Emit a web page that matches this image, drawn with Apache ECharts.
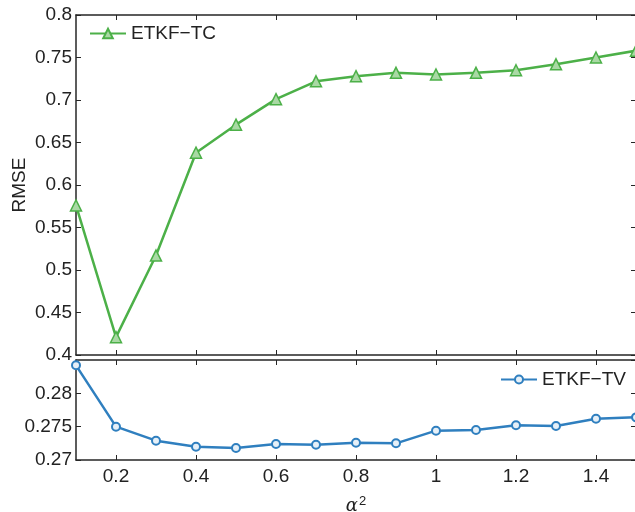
<!DOCTYPE html>
<html>
<head>
<meta charset="utf-8">
<script src="https://cdn.jsdelivr.net/npm/echarts@6/dist/echarts.min.js"></script>
<style>
html,body{margin:0;padding:0;background:#fff;}
#main{width:635px;height:512px;}
</style>
</head>
<body>
<div id="main"></div>
<script>
var alpha2 = [0.1, 0.2, 0.3, 0.4, 0.5, 0.6, 0.7, 0.8, 0.9, 1.0, 1.1, 1.2, 1.3, 1.4, 1.5];
var tcValues = [0.576, 0.421, 0.517, 0.638, 0.671, 0.701, 0.722, 0.728, 0.732, 0.730, 0.732, 0.735, 0.742, 0.750, 0.758];
var tvValues = [0.2842, 0.2750, 0.2729, 0.2720, 0.2718, 0.2724, 0.2723, 0.2726, 0.2725, 0.2744, 0.2745, 0.2752, 0.2751, 0.2762, 0.2764];
var xTicks = [0.2, 0.4, 0.6, 0.8, 1.0, 1.2, 1.4];
var tcName = 'ETKF\u2212TC';
var tvName = 'ETKF\u2212TV';

var FONT = 'Liberation Sans, Arial, Helvetica, sans-serif';
var AX = '#262626';
var GREEN = '#4cb048';
var BLUE = '#2f7fbf';
var FS = 19;

function pairs(xs, ys) { return xs.map(function (x, i) { return [x, ys[i]]; }); }

function xAx(grid, pos, showLabels, extra) {
  var o = {
    type: 'value', gridIndex: grid, position: pos, min: 0.1, max: 1.5,
    axisLine: { show: true, onZero: false, lineStyle: { color: AX, width: 1.5 } },
    axisTick: { show: true, inside: true, length: 5, customValues: xTicks, lineStyle: { color: AX, width: 1 } },
    axisLabel: { show: showLabels, customValues: xTicks, color: '#222', fontFamily: FONT, fontSize: FS, margin: 7,
      formatter: function (v) { return String(Math.round(v * 10) / 10); } },
    splitLine: { show: false }
  };
  if (extra) for (var k in extra) o[k] = extra[k];
  return o;
}
function yAx(grid, pos, min, max, interval, showLabels, showLine, extra) {
  var o = {
    type: 'value', gridIndex: grid, position: pos, min: min, max: max, interval: interval,
    axisLine: { show: showLine, onZero: false, lineStyle: { color: AX, width: 1.5 } },
    axisTick: { show: true, inside: true, length: 5, lineStyle: { color: AX, width: 1 } },
    axisLabel: { show: showLabels, color: '#222', fontFamily: FONT, fontSize: FS, margin: 4 },
    splitLine: { show: false }
  };
  if (extra) for (var k in extra) o[k] = extra[k];
  return o;
}

var chart = echarts.init(document.getElementById('main'), null, { renderer: 'canvas' });
chart.setOption({
  backgroundColor: '#fff',
  animation: false,
  grid: [
    { left: 76, top: 15, width: 560, height: 340, containLabel: false, outerBoundsMode: 'none' },
    { left: 76, top: 360, width: 560, height: 100, containLabel: false, outerBoundsMode: 'none' }
  ],
  legend: [
    { data: [tcName], left: 89, top: 24, padding: 0, itemWidth: 36, itemHeight: 12, itemGap: 5,
      textStyle: { fontFamily: FONT, fontSize: FS, color: '#222' } },
    { data: [tvName], left: 500, top: 370, padding: 0, itemWidth: 36, itemHeight: 10, itemGap: 5,
      textStyle: { fontFamily: FONT, fontSize: FS, color: '#222' } }
  ],
  xAxis: [
    xAx(0, 'bottom', false),
    xAx(0, 'top', false),
    xAx(1, 'bottom', true, {
      name: '{a|\u03b1}{s|2}', nameLocation: 'middle', nameGap: 35,
      nameTextStyle: { rich: {
        a: { fontFamily: 'DejaVu Serif, serif', fontStyle: 'italic', fontSize: 18, color: '#222' },
        s: { fontFamily: FONT, fontSize: 13, color: '#222', verticalAlign: 'top', padding: [0, 0, 9, 1] }
      } }
    }),
    xAx(1, 'top', false)
  ],
  yAxis: [
    yAx(0, 'left', 0.4, 0.8, 0.05, true, true, {
      name: 'RMSE', nameLocation: 'middle', nameGap: 47, nameRotate: 90, nameMoveOverlap: false,
      nameTextStyle: { fontFamily: FONT, fontSize: FS, color: '#222' }
    }),
    yAx(0, 'right', 0.4, 0.8, 0.05, false, false),
    yAx(1, 'left', 0.27, 0.285, 0.005, true, true),
    yAx(1, 'right', 0.27, 0.285, 0.005, false, false)
  ],
  series: [
    { name: tcName, type: 'line', xAxisIndex: 0, yAxisIndex: 0, data: pairs(alpha2, tcValues),
      symbol: 'triangle', symbolSize: 11, showAllSymbol: true, clip: false,
      lineStyle: { color: GREEN, width: 2.5 },
      itemStyle: { color: '#a9d9a4', borderColor: GREEN, borderWidth: 1.5 } },
    { name: tvName, type: 'line', xAxisIndex: 2, yAxisIndex: 2, data: pairs(alpha2, tvValues),
      symbol: 'circle', symbolSize: 8, showAllSymbol: true, clip: false,
      lineStyle: { color: BLUE, width: 2.5 },
      itemStyle: { color: '#e6f0f8', borderColor: BLUE, borderWidth: 2 } }
  ]
});
chart.setOption({ yAxis: [{}, {}, { axisLabel: { showMaxLabel: false } }, {}] });
</script>
</body>
</html>
